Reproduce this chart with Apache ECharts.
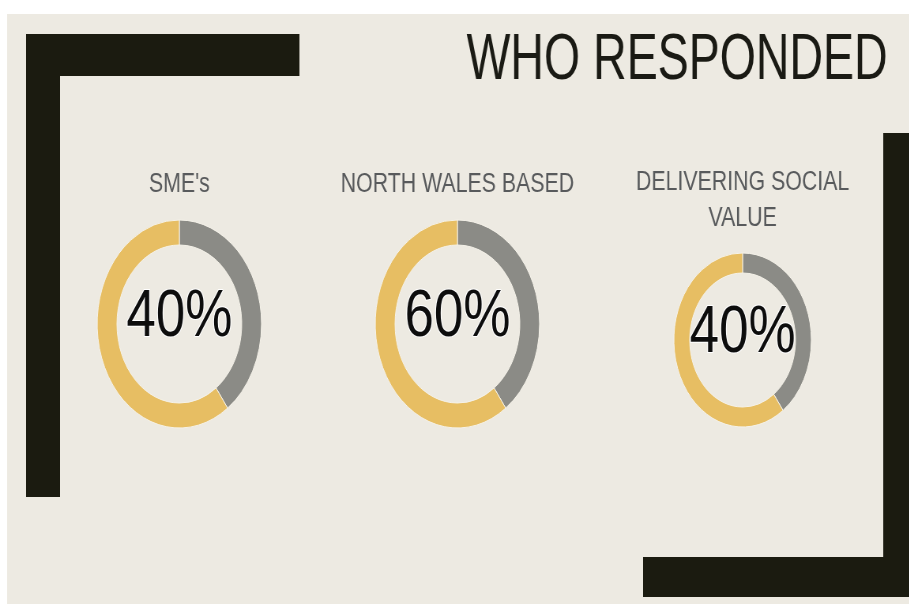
<!DOCTYPE html>
<html>
<head>
<meta charset="utf-8">
<script src="https://cdn.jsdelivr.net/npm/echarts@6/dist/echarts.min.js"></script>
<style>
  html, body { margin: 0; padding: 0; background: #ffffff; overflow: hidden; }
  /* the slide is drawn wide, then squashed like the original picture */
  #who { width: 1151px; height: 604px; transform: scaleX(0.79); transform-origin: 0 0; }
</style>
</head>
<body>
<div id="who"></div>
<script>
// data
var groups = ["SME's", 'NORTH WALES BASED', 'DELIVERING SOCIAL\nVALUE'];
var pctLabels = ['40%', '60%', '40%'];
var greyShare = [40, 40, 40];
var goldShare = [60, 60, 60];

// layout (unsquashed pixels)
var centers = [[227, 324], [579, 324], [940, 340]];
var radii = [[79, 104], [79, 104], [67, 87]];
var titleY = [167, 167, 165];

var dark = '#1b1b10';
var panel = '#edeae2';

function generateRespondedChart() {
    var chartDom = document.getElementById('who');
    var myChart = echarts.init(chartDom, null, {renderer: 'canvas'});
    var option;

    var graphics = [
        {type: 'rect', shape: {x: 9, y: 14, width: 1142, height: 590}, style: {fill: panel}, z: 0},
        // top-left bracket
        {type: 'rect', shape: {x: 33, y: 34, width: 346, height: 42}, style: {fill: dark}, z: 1},
        {type: 'rect', shape: {x: 33, y: 34, width: 43, height: 463}, style: {fill: dark}, z: 1},
        // bottom-right bracket
        {type: 'rect', shape: {x: 814, y: 557, width: 337, height: 40}, style: {fill: dark}, z: 1},
        {type: 'rect', shape: {x: 1118, y: 133, width: 33, height: 464}, style: {fill: dark}, z: 1},
        {
            type: 'text', x: 857, y: 61, z: 2, scaleX: 0.92,
            style: {
                text: 'WHO RESPONDED', align: 'center', verticalAlign: 'middle',
                font: '64px "Liberation Sans", Arial, sans-serif', fill: '#1a1a14'
            }
        }
    ];

    var series = [];
    for (var i = 0; i < groups.length; i++) {
        graphics.push({
            type: 'text', x: centers[i][0], y: titleY[i], z: 2,
            style: {
                text: groups[i], align: 'center', verticalAlign: 'top',
                font: '27px "Liberation Sans", Arial, sans-serif', fill: '#585a5c',
                lineHeight: 36
            }
        });
        graphics.push({
            type: 'text', x: centers[i][0], y: centers[i][1] - 6, z: 20,
            style: {
                text: pctLabels[i], align: 'center', verticalAlign: 'middle',
                font: '67px "Liberation Sans", Arial, sans-serif', fill: '#0d0d0d',
                stroke: '#ffffff', lineWidth: 2,
                shadowColor: 'rgba(30,30,30,0.7)', shadowOffsetX: 3, shadowOffsetY: 3, shadowBlur: 1
            }
        });
        series.push({
            type: 'pie',
            center: centers[i],
            radius: radii[i],
            startAngle: 90,
            clockwise: true,
            silent: true,
            z: 5,
            label: {show: false},
            labelLine: {show: false},
            emphasis: {disabled: true},
            itemStyle: {borderColor: '#f6f3ea', borderWidth: 1},
            data: [
                {name: 'other', value: greyShare[i], itemStyle: {color: '#8b8b86'}},
                {name: 'yes', value: goldShare[i], itemStyle: {color: '#e7be63'}}
            ]
        });
    }

    option = {
        animation: false,
        backgroundColor: 'transparent',
        graphic: graphics,
        series: series
    };

    option && myChart.setOption(option);
}

generateRespondedChart();
</script>
</body>
</html>
